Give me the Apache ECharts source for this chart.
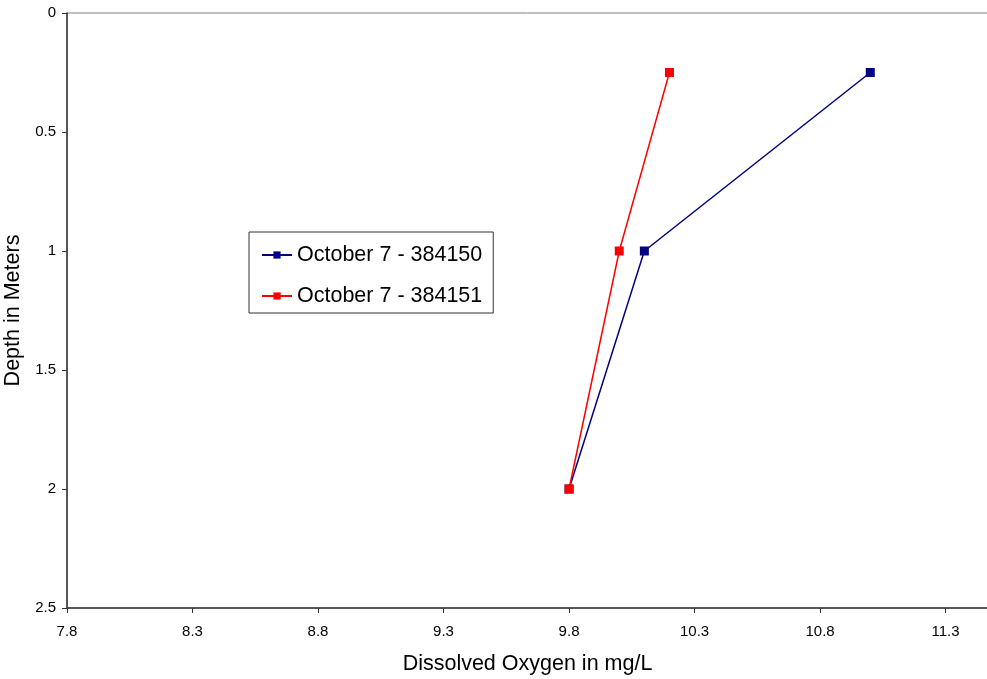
<!DOCTYPE html>
<html><head><meta charset="utf-8">
<script src="https://cdn.jsdelivr.net/npm/echarts@6/dist/echarts.min.js"></script>
<style>html,body{margin:0;padding:0;background:#fff}#c{width:987px;height:679px}</style>
</head><body><div id="c"></div>
<script>
const seriesNames = ['October 7 - 384150', 'October 7 - 384151'];
const oxygen384150 = [11.0, 10.1, 9.8];
const depth384150 = [0.25, 1, 2];
const oxygen384151 = [10.2, 10.0, 9.8];
const depth384151 = [0.25, 1, 2];
const xTicks = [7.8, 8.3, 8.8, 9.3, 9.8, 10.3, 10.8, 11.3];
const yTicks = [0, 0.5, 1, 1.5, 2, 2.5];
const xMin = 7.8, xMax = 11.469;

const pair = (xs, ys) => xs.map((x, i) => [x, ys[i]]);
const font = 'Liberation Sans, Arial, sans-serif';
const chart = echarts.init(document.getElementById('c'));
chart.setOption({
  animation: false,
  backgroundColor: '#fff',
  grid: { left: 67, top: 13, right: -1, bottom: 71, containLabel: false, outerBoundsMode: 'none',
          show: true, borderColor: '#808080', borderWidth: 1, backgroundColor: '#fff' },
  legend: {
    left: 249, top: 232, orient: 'vertical',
    backgroundColor: '#fff', borderColor: '#333', borderWidth: 1,
    padding: [12, 11, 6, 12], itemGap: 19, itemWidth: 30, itemHeight: 9,
    textStyle: { fontFamily: font, fontSize: 21.5, color: '#000' },
    data: seriesNames
  },
  xAxis: {
    type: 'value', min: xMin, max: xMax,
    name: 'Dissolved Oxygen in mg/L', nameLocation: 'middle', nameGap: 45,
    nameTextStyle: { fontFamily: font, fontSize: 21.5, color: '#000' },
    axisLine: { show: true, onZero: false, lineStyle: { color: '#333', width: 1.5 } },
    axisTick: { show: true, inside: false, length: 5, lineStyle: { color: '#333' }, customValues: xTicks },
    axisLabel: { fontFamily: font, fontSize: 15, color: '#000', margin: 16, customValues: xTicks, formatter: v => v.toFixed(1) },
    splitLine: { show: false }
  },
  yAxis: {
    type: 'value', min: 0, max: 2.5, interval: 0.5, inverse: true,
    name: 'Depth in Meters', nameLocation: 'middle', nameGap: 40, nameRotate: 90,
    nameTextStyle: { fontFamily: font, fontSize: 21.5, color: '#000' },
    axisLine: { show: true, onZero: false, lineStyle: { color: '#333', width: 1.5 } },
    axisTick: { show: true, length: 5, lineStyle: { color: '#333' } },
    axisLabel: { fontFamily: font, fontSize: 15, color: '#000', margin: 11, formatter: v => String(v) },
    splitLine: { show: false }
  },
  series: [
    { name: seriesNames[0], type: 'line', data: pair(oxygen384150, depth384150), color: '#000080',
      symbol: 'rect', symbolSize: 9, lineStyle: { width: 1.5, color: '#000080' }, itemStyle: { color: '#000080' } },
    { name: seriesNames[1], type: 'line', data: pair(oxygen384151, depth384151), color: '#ff0000',
      symbol: 'rect', symbolSize: 9, lineStyle: { width: 1.5, color: '#ff0000' }, itemStyle: { color: '#ff0000' } }
  ]
});
</script></body></html>
